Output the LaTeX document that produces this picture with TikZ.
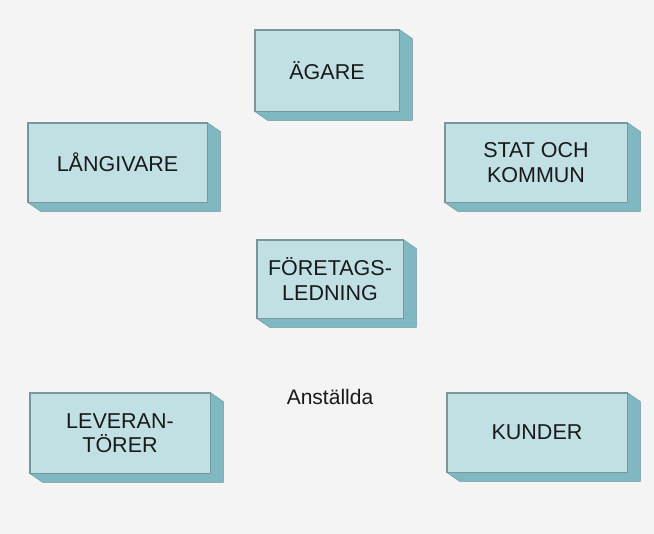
\documentclass[tikz,border=0pt]{standalone}
\usepackage{fontspec}
\setmainfont{Liberation Sans}
\usetikzlibrary{calc}
\definecolor{facecol}{RGB}{192,224,228}
\definecolor{sidecol}{RGB}{128,184,194}
\definecolor{edgecol}{RGB}{120,150,155}
\definecolor{bgcol}{RGB}{244,244,244}
\definecolor{txtcol}{RGB}{25,25,25}
\tikzset{
  box/.style={draw=edgecol, line width=0.8pt, fill=facecol, align=center,
    inner sep=0pt, font=\fontsize{21.5}{24.5}\selectfont, text=txtcol},
  side/.style={fill=sidecol, draw=sidecol!80!black, line width=0.4pt},
  plain/.style={font=\fontsize{21}{24}\selectfont, text=txtcol}
}
\begin{document}
\begin{tikzpicture}[x=1pt,y=1pt]
\useasboundingbox (0,0) rectangle (654,534);
\fill[bgcol] (0,0) rectangle (654,534);
\node[box, minimum width=144pt, minimum height=81pt] (agare) at (327,463.5) {ÄGARE};
\node[box, minimum width=179pt, minimum height=79pt] (lang) at (117.5,371.5) {LÅNGIVARE};
\node[box, minimum width=182pt, minimum height=79pt] (stat) at (536,371.5) {STAT OCH\\KOMMUN};
\node[box, minimum width=146pt, minimum height=78pt] (foret) at (330,255) {FÖRETAGS-\\LEDNING};
\node[box, minimum width=180pt, minimum height=80pt] (lev) at (120,101) {LEVERAN-\\TÖRER};
\node[box, minimum width=180pt, minimum height=79pt] (kund) at (537,101.5) {KUNDER};
\node[plain] (anst) at (330,137) {Anställda};
\foreach \n in {agare,lang,stat,foret,lev,kund}{
  \path[side] (\n.north east) -- ($(\n.north east)+(13,-9)$) -- ($(\n.south east)+(13,-9)$)
    -- ($(\n.south west)+(13,-9)$) -- (\n.south west) -- (\n.south east) -- cycle;
  \draw[edgecol, line width=0.8pt] (\n.north west) rectangle (\n.south east);
}
\end{tikzpicture}
\end{document}
